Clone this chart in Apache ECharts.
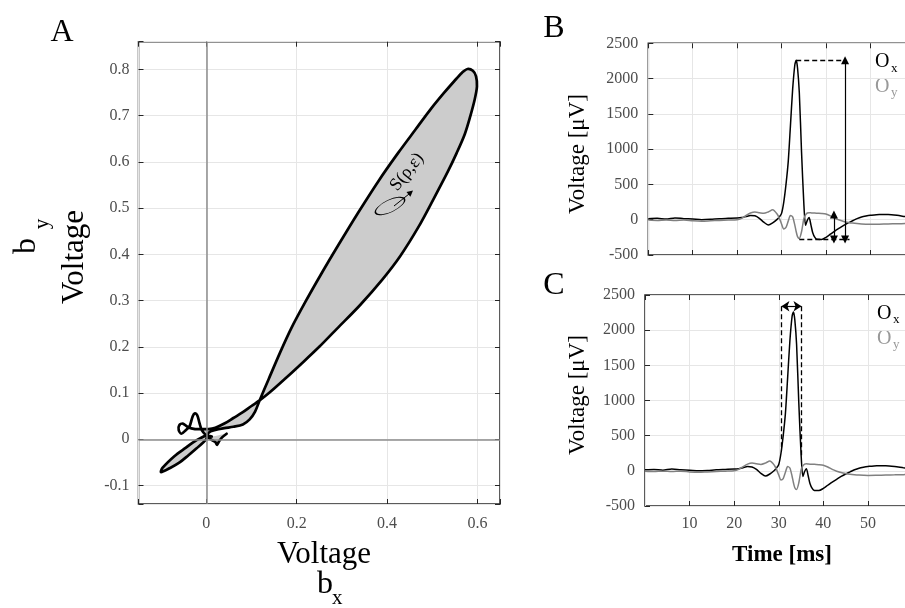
<!DOCTYPE html>
<html>
<head>
<meta charset="utf-8">
<script src="https://cdn.jsdelivr.net/npm/echarts@6/dist/echarts.min.js"></script>
<style>
  html, body { margin: 0; padding: 0; background: #fff; }
  #chart { width: 905px; height: 608px; }
</style>
</head>
<body>
<div id="chart"></div>
<script>
// panel A: trajectory b_x / b_y (Voltage)
const bx = [0.045, 0.035, 0.028, 0.024, 0.02, 0.01, 0.0, -0.01, -0.015, -0.02, -0.025, -0.03, -0.037, -0.045, -0.055, -0.061, -0.06, -0.052, -0.04, -0.025, -0.01, 0.005, 0.02, 0.04, 0.06, 0.08, 0.1, 0.118,
  0.14, 0.17, 0.21, 0.25, 0.29, 0.34, 0.39, 0.429, 0.47, 0.502, 0.535, 0.554, 0.572, 0.584, 0.594, 0.599, 0.597, 0.59, 0.578, 0.566, 0.549, 0.525, 0.495, 0.463, 0.425, 0.382, 0.336, 0.291, 0.254, 0.218, 0.188, 0.163, 0.138, 0.118,
  0.108, 0.096, 0.081, 0.06, 0.04, 0.02, 0.005, 0.0, -0.022, -0.04, -0.059, -0.08, -0.1, -0.097, -0.07, -0.045, -0.03, -0.012, 0.0, 0.012];
const by = [0.012, 0.004, -0.005, -0.012, -0.006, 0.0, 0.008, 0.02, 0.035, 0.052, 0.056, 0.05, 0.028, 0.02, 0.012, 0.02, 0.03, 0.034, 0.026, 0.022, 0.022, 0.022, 0.025, 0.034, 0.046, 0.058, 0.072, 0.084,
  0.101, 0.127, 0.163, 0.2, 0.24, 0.29, 0.346, 0.396, 0.46, 0.518, 0.58, 0.619, 0.66, 0.698, 0.735, 0.763, 0.785, 0.797, 0.801, 0.793, 0.775, 0.748, 0.712, 0.67, 0.62, 0.56, 0.49, 0.418, 0.357, 0.295, 0.24, 0.187, 0.13, 0.084,
  0.06, 0.043, 0.032, 0.027, 0.024, 0.02, 0.014, 0.0, -0.02, -0.035, -0.05, -0.062, -0.071, -0.062, -0.036, -0.018, -0.007, 0.003, 0.008, 0.006];

// panels B and C: O_x / O_y traces
const timeMs = [0, 2, 4, 6, 8, 10, 12, 14, 16, 18, 20, 21, 22, 23, 24, 25, 26, 27, 28, 29, 29.5, 30, 30.5, 31, 31.5, 32, 32.5, 33, 33.3, 33.6, 34, 34.5, 35, 35.4, 35.8, 36.2, 36.6, 37, 37.5, 38, 39, 40, 41, 42, 43, 44, 45, 46, 47, 48, 49, 50, 52, 54, 56, 58, 60];
const ox = [15, 20, 10, 25, 15, 10, 0, 5, 15, 20, 25, 30, 45, 60, 55, 20, -35, -75, -45, 5, 40, 90, 250, 500, 820, 1330, 1850, 2200, 2260, 2150, 1800, 960, 250, -80, -10, 30, -70, -180, -250, -278, -280, -250, -205, -160, -120, -80, -45, -15, 15, 38, 52, 62, 74, 74, 62, 42, 25];
const oy = [-5, -10, -5, -10, -5, -15, -20, -15, -10, -5, 0, 20, 60, 95, 110, 100, 90, 110, 140, 80, 20, -60, -130, -110, -20, 60, 40, -80, -170, -240, -265, -170, 10, 70, 95, 100, 98, 95, 95, 92, 88, 80, 55, 20, -5, -25, -38, -48, -55, -60, -63, -65, -63, -60, -57, -54, -52];

// annotations: [t start, t end, voltage] and [t, v from, v to]
const bDashed = [[33.3, 44.3, 2260], [34.0, 45.3, -280]];
const bArrows = [[44.3, 2260, -280], [41.8, 75, -280]];
const cDashed = [[30.6, 2340, 290], [35.1, 2340, 200]];
const cArrow = [30.6, 35.1, 2340];

const serif = '"Liberation Serif", "DejaVu Serif", serif';
const frame = '#262626';
const tickColor = '#4d4d4d';

const chart = echarts.init(document.getElementById('chart'));

function fmtStep(step) {
    return function (v) {
        const k = v / step;
        if (Math.abs(k - Math.round(k)) > 1e-6) return '';
        return String(+v.toFixed(2));
    };
}
const plain = v => String(v);

const tick = { inside: true, length: 5, lineStyle: { color: frame, width: 1 } };
const split = { show: true, lineStyle: { color: '#e6e6e6', width: 1 } };
const lbl = { color: tickColor, fontSize: 16, fontFamily: serif };

function sideAxis(grid, pos, min, max, extra) {
    return Object.assign({
        gridIndex: grid, type: 'value', position: pos, min: min, max: max,
        axisLine: { show: false, onZero: false }, axisTick: tick,
        axisLabel: { show: false }, splitLine: { show: false }
    }, extra || {});
}

const gridBox = { show: true, borderColor: frame, borderWidth: 1.5, backgroundColor: 'transparent', containLabel: false, outerBoundsMode: 'none' };

const option = {
    animation: false,
    grid: [
        Object.assign({ left: 138.5, top: 41.7, width: 361.5, height: 462.3 }, gridBox),
        Object.assign({ left: 648.3, top: 43.3, width: 266.5, height: 211.7 }, gridBox),
        Object.assign({ left: 645, top: 295, width: 267.5, height: 211 }, gridBox)
    ],
    xAxis: [
        {
            gridIndex: 0, type: 'value', min: -0.15, max: 0.65, splitNumber: 4,
            axisLine: { show: false, onZero: false }, axisTick: tick, splitLine: split,
            axisLabel: Object.assign({ margin: 12, formatter: fmtStep(0.2) }, lbl)
        },
        sideAxis(0, 'top', -0.15, 0.65, { splitNumber: 4 }),
        {
            gridIndex: 1, type: 'value', min: 0, max: 60, interval: 10,
            axisLine: { show: false, onZero: false }, axisTick: tick, splitLine: split,
            axisLabel: { show: false }
        },
        sideAxis(1, 'top', 0, 60, { interval: 10 }),
        {
            gridIndex: 2, type: 'value', min: 0, max: 60, interval: 10,
            axisLine: { show: false, onZero: false }, axisTick: tick, splitLine: split,
            axisLabel: Object.assign({ margin: 10, showMinLabel: false, formatter: plain }, lbl)
        },
        sideAxis(2, 'top', 0, 60, { interval: 10 })
    ],
    yAxis: [
        {
            gridIndex: 0, type: 'value', min: -0.14, max: 0.86, splitNumber: 10,
            axisLine: { show: false, onZero: false }, axisTick: tick, splitLine: split,
            axisLabel: Object.assign({ margin: 9, formatter: fmtStep(0.1) }, lbl)
        },
        sideAxis(0, 'right', -0.14, 0.86, { splitNumber: 10 }),
        {
            gridIndex: 1, type: 'value', min: -500, max: 2500, interval: 500,
            axisLine: { show: false, onZero: false }, axisTick: tick, splitLine: split,
            axisLabel: Object.assign({ margin: 10, formatter: plain }, lbl)
        },
        {
            gridIndex: 2, type: 'value', min: -500, max: 2500, interval: 500,
            axisLine: { show: false, onZero: false }, axisTick: tick, splitLine: split,
            axisLabel: Object.assign({ margin: 10, formatter: plain }, lbl)
        }
    ],
    series: [
        // zero lines of panel A
        {
            type: 'line', xAxisIndex: 0, yAxisIndex: 0, data: [], z: 2,
            markLine: {
                silent: true, symbol: 'none', animation: false, label: { show: false },
                lineStyle: { color: '#8c8c8c', width: 1.5, type: 'solid' },
                data: [{ xAxis: 0 }, { yAxis: 0 }]
            }
        },
        // trajectory with gray fill
        {
            type: 'custom', xAxisIndex: 0, yAxisIndex: 0, z: 3, silent: true,
            data: [[0, 0]],
            renderItem: function (params, api) {
                const pts = bx.map((x, i) => api.coord([x, by[i]]));
                const fillPts = pts.filter((p, i) => !(bx[i] < -0.012 && by[i] > 0.01));
                return {
                    type: 'group',
                    children: [
                        { type: 'polygon', shape: { points: fillPts, smooth: 0.3 }, style: { fill: '#cccccc', stroke: null } },
                        { type: 'polyline', shape: { points: pts, smooth: 0.3 }, style: { fill: null, stroke: '#000', lineWidth: 2.7, lineJoin: 'round', lineCap: 'round' } }
                    ]
                };
            }
        },
        // panel B
        {
            name: 'Ox', type: 'line', xAxisIndex: 2, yAxisIndex: 2, showSymbol: false, smooth: 0.25, z: 3,
            lineStyle: { color: '#000', width: 1.5 },
            data: timeMs.map((t, i) => [t, ox[i]]),
            markLine: {
                silent: true, animation: false, label: { show: false }, symbolSize: 8,
                data: bDashed.map(d => [
                    { coord: [d[0], d[2]], symbol: 'none', lineStyle: { color: '#000', width: 1.3, type: [5, 3] } },
                    { coord: [d[1], d[2]], symbol: 'none', lineStyle: { color: '#000', width: 1.3, type: [5, 3] } }
                ]).concat(bArrows.map(d => [
                    { coord: [d[0], d[1]], symbol: 'triangle', lineStyle: { color: '#000', width: 1.2, type: 'solid' } },
                    { coord: [d[0], d[2]], symbol: 'triangle', lineStyle: { color: '#000', width: 1.2, type: 'solid' } }
                ]))
            }
        },
        {
            name: 'Oy', type: 'line', xAxisIndex: 2, yAxisIndex: 2, showSymbol: false, smooth: 0.25, z: 4,
            lineStyle: { color: '#808080', width: 1.5 },
            data: timeMs.map((t, i) => [t, oy[i]])
        },
        // panel C
        {
            name: 'Ox', type: 'line', xAxisIndex: 4, yAxisIndex: 3, showSymbol: false, smooth: 0.25, z: 3,
            lineStyle: { color: '#000', width: 1.5 },
            data: timeMs.map((t, i) => [t, ox[i]]),
            markLine: {
                silent: true, animation: false, label: { show: false }, symbolSize: 8,
                data: cDashed.map(d => [
                    { coord: [d[0], d[1]], symbol: 'none', lineStyle: { color: '#000', width: 1.3, type: [5, 3] } },
                    { coord: [d[0], d[2]], symbol: 'none', lineStyle: { color: '#000', width: 1.3, type: [5, 3] } }
                ]).concat([[
                    { coord: [cArrow[0], cArrow[2]], symbol: 'arrow', lineStyle: { color: '#000', width: 1.2, type: 'solid' } },
                    { coord: [cArrow[1], cArrow[2]], symbol: 'arrow', lineStyle: { color: '#000', width: 1.2, type: 'solid' } }
                ]])
            }
        },
        {
            name: 'Oy', type: 'line', xAxisIndex: 4, yAxisIndex: 3, showSymbol: false, smooth: 0.25, z: 4,
            lineStyle: { color: '#808080', width: 1.5 },
            data: timeMs.map((t, i) => [t, oy[i]])
        }
    ],
    graphic: [
        { type: 'text', x: 62, y: 33, style: { text: 'A', font: '32px ' + serif, fill: '#000', textAlign: 'center', textVerticalAlign: 'middle' } },
        { type: 'text', x: 554, y: 29, style: { text: 'B', font: '32px ' + serif, fill: '#000', textAlign: 'center', textVerticalAlign: 'middle' } },
        { type: 'text', x: 554, y: 286, style: { text: 'C', font: '32px ' + serif, fill: '#000', textAlign: 'center', textVerticalAlign: 'middle' } },
        // panel A axis labels
        { type: 'text', x: 324, y: 555, style: { text: 'Voltage', font: '31px ' + serif, fill: '#000', textAlign: 'center', textVerticalAlign: 'middle' } },
        { type: 'text', x: 317, y: 585, style: { text: 'b', font: '32px ' + serif, fill: '#000', textAlign: 'left', textVerticalAlign: 'middle' } },
        { type: 'text', x: 332, y: 598, style: { text: 'x', font: '21px ' + serif, fill: '#000', textAlign: 'left', textVerticalAlign: 'middle' } },
        { type: 'text', x: 75, y: 257, rotation: Math.PI / 2, style: { text: 'Voltage', font: '31px ' + serif, fill: '#000', textAlign: 'center', textVerticalAlign: 'middle' } },
        { type: 'text', x: 27, y: 246, rotation: Math.PI / 2, style: { text: 'b', font: '32px ' + serif, fill: '#000', textAlign: 'center', textVerticalAlign: 'middle' } },
        { type: 'text', x: 42, y: 224, rotation: Math.PI / 2, style: { text: 'y', font: '21px ' + serif, fill: '#000', textAlign: 'center', textVerticalAlign: 'middle' } },
        // panel B / C axis labels
        { type: 'text', x: 578, y: 154, rotation: Math.PI / 2, style: { text: 'Voltage [μV]', font: '23px ' + serif, fill: '#000', textAlign: 'center', textVerticalAlign: 'middle' } },
        { type: 'text', x: 578, y: 395, rotation: Math.PI / 2, style: { text: 'Voltage [μV]', font: '23px ' + serif, fill: '#000', textAlign: 'center', textVerticalAlign: 'middle' } },
        { type: 'text', x: 782, y: 555, style: { text: 'Time [ms]', font: 'bold 23px ' + serif, fill: '#000', textAlign: 'center', textVerticalAlign: 'middle' } },
        // legends
        { type: 'text', x: 875, y: 62, style: { text: 'O', font: '20px ' + serif, fill: '#000', textAlign: 'left', textVerticalAlign: 'middle' } },
        { type: 'text', x: 891, y: 69, style: { text: 'x', font: '13px ' + serif, fill: '#000', textAlign: 'left', textVerticalAlign: 'middle' } },
        { type: 'text', x: 875, y: 87, style: { text: 'O', font: '20px ' + serif, fill: '#999', textAlign: 'left', textVerticalAlign: 'middle' } },
        { type: 'text', x: 891, y: 93, style: { text: 'y', font: '13px ' + serif, fill: '#999', textAlign: 'left', textVerticalAlign: 'middle' } },
        { type: 'text', x: 877, y: 314, style: { text: 'O', font: '20px ' + serif, fill: '#000', textAlign: 'left', textVerticalAlign: 'middle' } },
        { type: 'text', x: 893, y: 320, style: { text: 'x', font: '13px ' + serif, fill: '#000', textAlign: 'left', textVerticalAlign: 'middle' } },
        { type: 'text', x: 877, y: 339, style: { text: 'O', font: '20px ' + serif, fill: '#999', textAlign: 'left', textVerticalAlign: 'middle' } },
        { type: 'text', x: 893, y: 345, style: { text: 'y', font: '13px ' + serif, fill: '#999', textAlign: 'left', textVerticalAlign: 'middle' } },
        // S(rho, eps) annotation inside the loop
        { type: 'text', x: 407, y: 172, rotation: 0.9, z: 10, style: { text: 'S(ρ,ε)', font: '18px ' + serif, fill: '#000', textAlign: 'center', textVerticalAlign: 'middle' } },
        { type: 'circle', x: 390, y: 206, rotation: 0.45, scaleX: 1.6, scaleY: 0.6, z: 10, shape: { cx: 0, cy: 0, r: 10 }, style: { fill: null, stroke: '#000', lineWidth: 1, strokeNoScale: true } },
        { type: 'line', z: 10, shape: { x1: 394, y1: 206, x2: 409, y2: 194 }, style: { stroke: '#000', lineWidth: 1 } },
        { type: 'polygon', z: 10, shape: { points: [[413, 190.5], [410.4, 196.7], [406.5, 192.1]] }, style: { fill: '#000' } }
    ]
};

chart.setOption(option);
window.addEventListener('resize', function () {
    chart.resize();
});
</script>
</body>
</html>
